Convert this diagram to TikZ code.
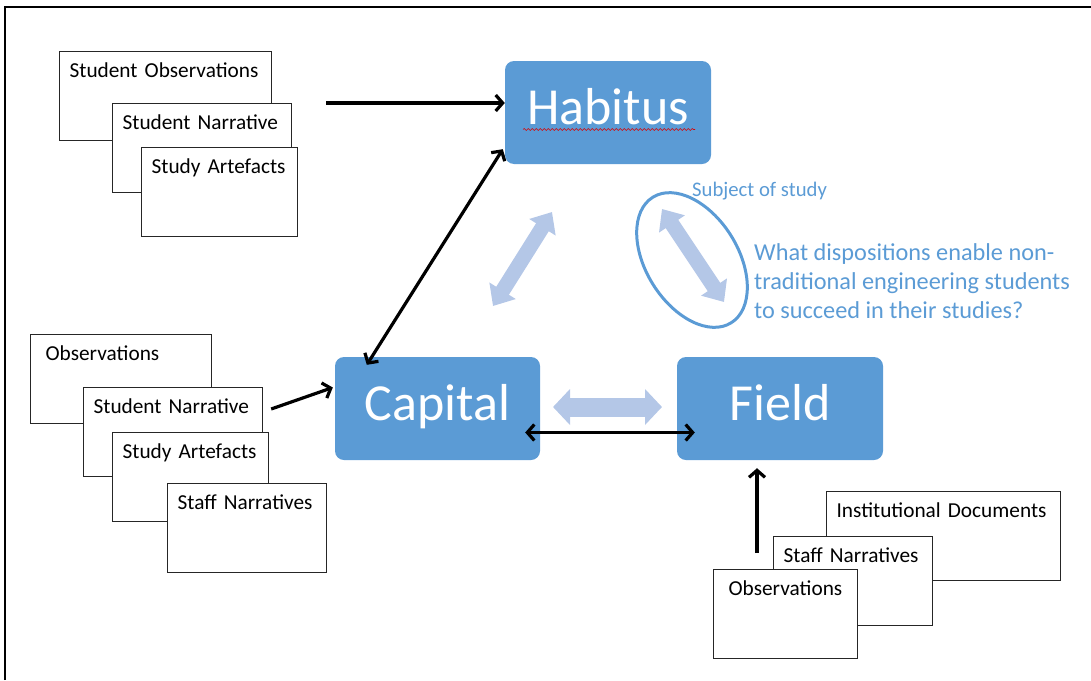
\documentclass[tikz,border=0pt]{standalone}
\usepackage{fontspec}
\setmainfont{Carlito}
\usetikzlibrary{arrows.meta, calc, decorations.pathmorphing}
\definecolor{officeblue}{HTML}{5B9BD5}
\definecolor{paleblue}{HTML}{B4C7E7}
\tikzset{
    src/.style={draw=black!85, line width=1.2pt, fill=white, anchor=north west,
        inner xsep=10pt, inner ysep=0pt, text height=26pt, text depth=63pt,
        align=left, font=\fontsize{21.3}{25}\selectfont},
    concept/.style={fill=officeblue, rounded corners=9pt, minimum width=206pt,
        minimum height=103pt, inner sep=0pt, text=white,
        text height=36pt, text depth=13pt, font=\fontsize{52}{60}\selectfont},
    conn/.style={line width=3.2pt, ->},
    biconn/.style={line width=3.2pt, <->},
    bigarrow/.style={paleblue, line width=15pt,
        {Triangle[length=18pt,width=30pt]}-{Triangle[length=18pt,width=30pt]}},
    bluetext/.style={anchor=base west, inner sep=0pt, text=officeblue, align=left}
}

\begin{document}
\begin{tikzpicture}[x=1pt, y=-1pt, >={Straight Barb[length=7pt,width=16pt]}]
    \useasboundingbox (0,0) rectangle (1091,680);
    \draw[line width=2pt] (5,680) |- (1091,7);

    % data sources
    \node[src, text width=192pt] (so1) at (59,51) {Student Observations};
    \node[src, text width=159pt] (sn1) at (112,103) {Student Narrative};
    \node[src, text width=136pt] (sa1) at (141,147) {Study Artefacts};

    \node[src, text width=161pt] (ob2) at (30,334) {\hspace*{5pt}Observations};
    \node[src, text width=159pt] (sn2) at (83,387) {Student Narrative};
    \node[src, text width=136pt] (sa2) at (112,432) {Study Artefacts};
    \node[src, text width=139pt] (sf2) at (167,483) {Staff Narratives};

    \node[src, text width=214pt] (id3) at (826,491) {Institutional Documents};
    \node[src, text width=139pt] (sf3) at (773,536) {Staff Narratives};
    \node[src, text width=124pt] (ob3) at (713,569) {\hspace*{5pt}Observations};

    % concepts
    \node[concept] (hab) at (608,112.5) {Habitus};
    \node[concept, minimum width=205pt] (cap) at (437.5,408.5) {Capital};
    \node[concept] (fld) at (780,408.5) {Field};
    \draw[red!85!black, line width=0.6pt, decorate,
        decoration={snake, amplitude=1pt, segment length=4pt}]
        ([xshift=-85pt,yshift=-17pt]hab.center) -- ([xshift=87pt,yshift=-17pt]hab.center);

    % pale arrows
    \draw[bigarrow] (493,306) -- (552,212);
    \draw[bigarrow] (662,209) -- (724,302);
    \draw[paleblue, line width=19pt,
        {Triangle[length=17pt,width=35pt]}-{Triangle[length=17pt,width=35pt]}]
        (553,407) -- (662,407);

    % subject of study
    \draw[officeblue, line width=3pt, rotate around={-58:(692,260)}]
        (692,260) ellipse [x radius=74, y radius=46];
    \node[bluetext, font=\fontsize{20.7}{25}\selectfont] (subj) at (692,196) {Subject of study};
    \node[bluetext, font=\fontsize{24.3}{29}\selectfont] (qst) at (754,318)
        {What dispositions enable non-\\traditional engineering students\\to succeed in their studies?};

    % links
    \draw[conn] ([xshift=34pt]sn1.north east) -- (hab.west |- sn1.north);
    \draw[biconn] ([xshift=32pt,yshift=-8pt]cap.north west) -- ([xshift=-2pt,yshift=15pt]hab.south west);
    \draw[conn] ([xshift=8pt,yshift=-22pt]sn2.north east) -- ([xshift=-2pt,yshift=21pt]cap.west);
    \draw[biconn] ([xshift=-15pt,yshift=-24pt]cap.east) -- ([xshift=18pt,yshift=-24pt]fld.west);
    \coordinate (up) at ([xshift=44pt,yshift=16pt]ob3.north west);
    \draw[conn] (up) -- ($(up |- fld.south)+(0,8)$);
\end{tikzpicture}
\end{document}
